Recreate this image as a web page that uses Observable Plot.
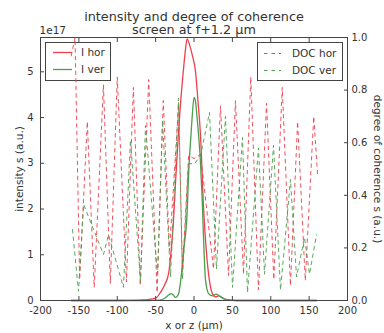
<!DOCTYPE html>
<html>
<head>
<meta charset="utf-8">
<script src="https://cdn.jsdelivr.net/npm/d3@7"></script>
<script src="https://cdn.jsdelivr.net/npm/@observablehq/plot@0.6"></script>
<style>
  html, body { margin: 0; padding: 0; background: #fff; }
  #wrap { position: relative; width: 384px; height: 333px; font-family: "DejaVu Sans", sans-serif; }
  .layer { position: absolute; left: 0; top: 0; }
  .legend { position: absolute; background: #fff; border: 1px solid #444; box-sizing: border-box; }
  .legend svg { position: absolute; left: 0; top: 0; overflow: visible; }
</style>
</head>
<body>
<div id="wrap">
  <div id="base" class="layer"></div>
  <div id="legL" class="legend" style="left:45px;top:42px;width:66px;height:39px;"></div>
  <div id="top" class="layer"></div>
  <div id="legR" class="legend" style="left:257px;top:42px;width:86px;height:39px;"></div>
</div>
<script>
// ---- data ----
const titleLines = ["intensity and degree of coherence", "screen at f+1.2 µm"];
const seriesNames = ["I hor", "I ver", "DOC hor", "DOC ver"];
const xLabel = "x or z (µm)";
const yLabelLeft = "intensity s (a.u.)";
const yLabelRight = "degree of coherence s (a.u.)";
const yExponent = "1e17";

const xTicks = [-200, -150, -100, -50, 0, 50, 100, 150, 200];
const yTicksLeft = [0, 1, 2, 3, 4, 5];
const yTicksRight = [0.0, 0.2, 0.4, 0.6, 0.8, 1.0];

// intensity (units of 1e17)
const iHorX = [-160, -100, -70, -60, -50, -44, -38, -33, -29.7, -27.5, -24, -20.5, -17.6, -14, -11, -9, -6, -2, 2, 5, 8.5, 12.5, 16, 20, 24, 28, 32, 36, 42, 55, 160];
const iHorY = [0, 0, 0.01, 0.02, 0.05, 0.17, 0.35, 0.6, 1.1, 1.55, 2.6, 3.6, 4.3, 5.0, 5.5, 5.72, 5.6, 5.35, 5.0, 4.4, 3.6, 2.0, 1.1, 0.45, 0.15, 0.08, 0.1, 0.07, 0.02, 0, 0];
const iVerX = [-160, -60, -45, -38, -33, -30, -27, -24, -20, -17.6, -13.3, -9, -6.8, -4, -2, 0, 2, 4, 6.2, 8.5, 10.7, 12.8, 15, 19, 24, 29, 33, 40, 55, 160];
const iVerY = [0, 0, 0.01, 0.05, 0.12, 0.15, 0.12, 0.07, 0.15, 0.4, 1.13, 1.9, 2.84, 3.6, 4.1, 4.44, 4.35, 4.0, 3.57, 3.0, 2.2, 1.2, 0.45, 0.15, 0.1, 0.14, 0.1, 0.03, 0, 0];

// degree of coherence
const docHorX = [-160, -155, -149, -139, -130, -118, -109, -100, -88, -79, -70, -59, -48, -40, -32, -20, -15, -7, 0, 8.5, 25.4, 34.5, 45, 54, 64.5, 74, 84, 94.5, 104, 115, 125.7, 135, 145, 156, 161];
const docHorY = [0.93, 1.0, 0.08, 0.68, 0.05, 0.82, 0.065, 0.85, 0.07, 0.81, 0.057, 0.84, 0.03, 0.76, 0.19, 0.745, 0.11, 0.55, 0.54, 0.555, 0.12, 0.74, 0.095, 0.76, 0.10, 0.85, 0.04, 0.75, 0.08, 0.81, 0.057, 0.68, 0.076, 0.70, 0.48];
const docVerX = [-158.3, -150.5, -143.8, -117.9, -111.4, -91.9, -82.7, -69.7, -63.2, -47.6, -41.0, -30.6, -20.2, -15.0, -7.2, 0.7, 8.5, 20.2, 29.3, 41.0, 50.2, 63.2, 69.7, 84.0, 91.9, 103.6, 112.7, 125.7, 133.6, 144.0, 150.5, 159.6];
const docVerY = [0.27, 0.035, 0.365, 0.175, 0.25, 0.05, 0.61, 0.075, 0.665, 0.10, 0.685, 0.09, 0.77, 0.08, 0.52, 0.52, 0.55, 0.715, 0.12, 0.70, 0.05, 0.62, 0.03, 0.58, 0.1, 0.59, 0.04, 0.46, 0.09, 0.24, 0.1, 0.25];

// ---- styling ----
const RED = "#f03e4e";
const GREEN = "#4a9f4a";
const AX = "#444";
const TXT = "#333";
const dash = "3.5,4";
const W = 384, H = 333;
const margins = {marginLeft: 40, marginRight: 37, marginTop: 37, marginBottom: 33};
const style = {fontFamily: "DejaVu Sans, sans-serif", fontSize: "10px", color: TXT, background: "transparent", overflow: "visible"};

const zip = (xs, ys) => xs.map((x, i) => ({x, y: ys[i]}));
const iHor = zip(iHorX, iHorY), iVer = zip(iVerX, iVerY);
const docHor = zip(docHorX, docHorY), docVer = zip(docVerX, docVerY);

const base = Plot.plot({
  width: W, height: H, ...margins, style,
  x: {domain: [-200, 200]},
  y: {domain: [0, 5.75]},
  marks: [
    Plot.line(iHor, {x: "x", y: "y", stroke: RED, strokeWidth: 1.3, curve: "monotone-x"}),
    Plot.line(iVer, {x: "x", y: "y", stroke: GREEN, strokeWidth: 1.3, curve: "monotone-x"}),
    Plot.frame({stroke: AX}),
    Plot.axisX({ticks: xTicks, tickSize: -4, tickPadding: 10, tickFormat: d => String(d), label: null, stroke: AX}),
    Plot.axisX({anchor: "top", ticks: xTicks, tickSize: -4, tickFormat: () => "", label: null, stroke: AX}),
    Plot.axisY({ticks: yTicksLeft, tickSize: -4, tickPadding: 11, tickFormat: d => String(d), label: null, stroke: AX}),
    Plot.text([xLabel], {frameAnchor: "bottom", dy: 25, fontSize: 10.5, textAnchor: "middle", lineAnchor: "middle"}),
    Plot.text([yLabelLeft], {frameAnchor: "left", dx: -21, rotate: -90, fontSize: 10.5, textAnchor: "middle", lineAnchor: "middle"}),
    Plot.text([yExponent], {frameAnchor: "top-left", dy: -6.5, dx: -1, textAnchor: "start", lineAnchor: "middle", fontSize: 10.5}),
    Plot.text([titleLines[0]], {frameAnchor: "top", dy: -21, fontSize: 12.8, textAnchor: "middle", lineAnchor: "middle"}),
    Plot.text([titleLines[1]], {frameAnchor: "top", dy: -7.5, fontSize: 12.8, textAnchor: "middle", lineAnchor: "middle"})
  ]
});
document.getElementById("base").append(base);

const topPlot = Plot.plot({
  width: W, height: H, ...margins, style,
  x: {domain: [-200, 200], axis: null},
  y: {domain: [0, 1]},
  marks: [
    Plot.line(docHor, {x: "x", y: "y", stroke: RED, strokeWidth: 1, strokeOpacity: 0.9, strokeDasharray: dash}),
    Plot.line(docVer, {x: "x", y: "y", stroke: GREEN, strokeWidth: 1, strokeOpacity: 0.9, strokeDasharray: dash}),
    Plot.axisY({anchor: "right", ticks: yTicksRight, tickSize: -4, tickPadding: 8, tickFormat: d => d.toFixed(1), label: null, stroke: AX}),
    Plot.text([yLabelRight], {frameAnchor: "right", dx: 30, rotate: 90, fontSize: 10.5, textAnchor: "middle", lineAnchor: "middle"})
  ]
});
document.getElementById("top").append(topPlot);

// ---- legends ----
function legend(el, entries, lineX1, lineX2, textX, rowY) {
  const ns = "http://www.w3.org/2000/svg";
  const svg = document.createElementNS(ns, "svg");
  svg.setAttribute("width", el.clientWidth);
  svg.setAttribute("height", el.clientHeight);
  entries.forEach((e, i) => {
    const y = rowY[i];
    const ln = document.createElementNS(ns, "line");
    ln.setAttribute("x1", lineX1); ln.setAttribute("x2", lineX2);
    ln.setAttribute("y1", y); ln.setAttribute("y2", y);
    ln.setAttribute("stroke", e.color);
    ln.setAttribute("stroke-width", e.dashed ? 1 : 1.3);
    if (e.dashed) ln.setAttribute("stroke-dasharray", dash);
    svg.append(ln);
    const t = document.createElementNS(ns, "text");
    t.setAttribute("x", textX); t.setAttribute("y", y);
    t.setAttribute("dy", "0.35em");
    t.setAttribute("font-family", "DejaVu Sans, sans-serif");
    t.setAttribute("font-size", "10.5");
    t.setAttribute("fill", TXT);
    t.textContent = e.name;
    svg.append(t);
  });
  el.append(svg);
}
legend(document.getElementById("legL"),
  [{name: seriesNames[0], color: RED}, {name: seriesNames[1], color: GREEN}],
  7, 26, 35, [9.5, 26.5]);
legend(document.getElementById("legR"),
  [{name: seriesNames[2], color: RED, dashed: true}, {name: seriesNames[3], color: GREEN, dashed: true}],
  6, 23, 34, [10.5, 27.5]);
</script>
</body>
</html>
